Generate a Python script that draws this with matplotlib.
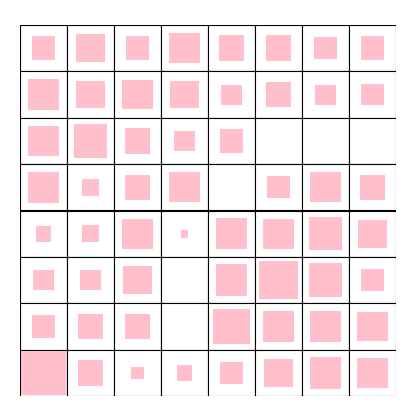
import matplotlib
matplotlib.use("Agg")
import matplotlib.pyplot as plt
from matplotlib.patches import Rectangle
import numpy as np

# relative square side (fraction of a cell), rows top to bottom
sizes = [
    [0.51, 0.60, 0.51, 0.64, 0.55, 0.55, 0.47, 0.51],
    [0.68, 0.60, 0.64, 0.60, 0.43, 0.55, 0.43, 0.47],
    [0.64, 0.72, 0.55, 0.43, 0.51, 0.0, 0.0, 0.0],
    [0.68, 0.38, 0.55, 0.64, 0.0, 0.47, 0.64, 0.55],
    [0.34, 0.38, 0.64, 0.17, 0.68, 0.64, 0.72, 0.60],
    [0.43, 0.43, 0.60, 0.0, 0.68, 0.81, 0.72, 0.47],
    [0.51, 0.55, 0.55, 0.0, 0.77, 0.68, 0.68, 0.64],
    [0.94, 0.55, 0.26, 0.34, 0.47, 0.60, 0.68, 0.64],
]

fig = plt.figure(figsize=(4.16, 4.16), dpi=100)
ax = fig.add_axes([20/416, 20/416, 376/416, 371/416])
n = len(sizes)
for r, row in enumerate(sizes):
    for c, s in enumerate(row):
        y = n - 1 - r
        ax.add_patch(Rectangle((c, y), 1, 1, facecolor="white", edgecolor="black", lw=0.8))
        if s > 0:
            ax.add_patch(Rectangle((c + 0.5 - s/2, y + 0.5 - s/2), s, s, facecolor="pink", edgecolor="none"))
ax.set_xlim(0, n)
ax.set_ylim(0, n)
ax.axis("off")
fig.savefig("out.png", dpi=100)
